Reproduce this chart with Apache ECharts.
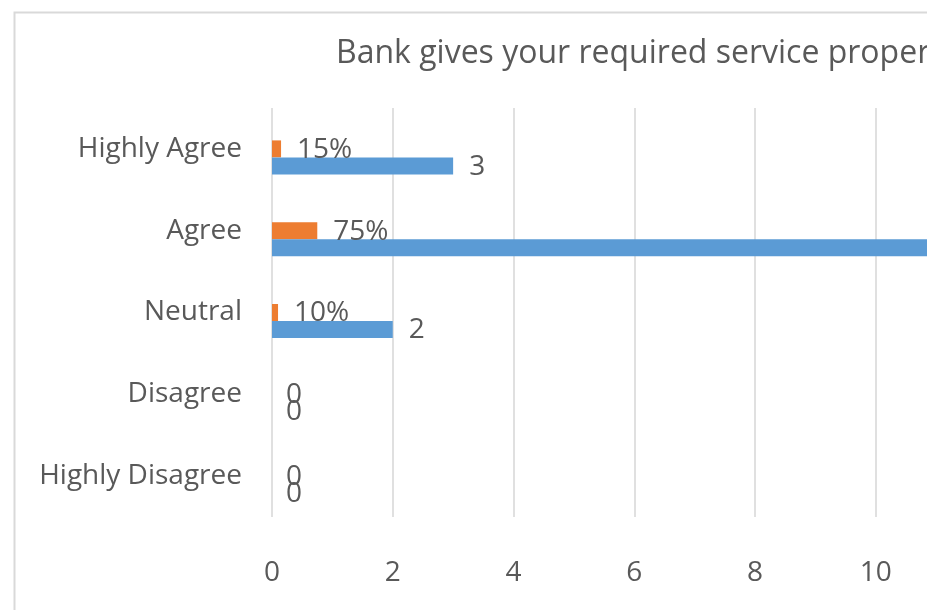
<!DOCTYPE html>
<html>
<head>
<meta charset="utf-8">
<script src="https://cdn.jsdelivr.net/npm/echarts@6/dist/echarts.min.js"></script>
<style>
  html, body { margin: 0; padding: 0; background: #fff; }
  #chart { width: 927px; height: 610px; }
</style>
</head>
<body>
<div id="chart"></div>
<script>
// Survey responses, listed bottom-to-top as the category axis draws them
const categories = ['Highly Disagree', 'Disagree', 'Neutral', 'Agree', 'Highly Agree'];
const counts = [0, 0, 2, 15, 3];
const shares = [0, 0, 0.10, 0.75, 0.15];
const xTicks = [0, 2, 4, 6, 8, 10, 12, 14, 16];

const FONT = '"Open Sans", "Noto Sans", sans-serif';
const TEXT = '#595959';
const X_MIN = xTicks[0];
const X_MAX = xTicks[xTicks.length - 1];

function labelled(values, fmt) {
  return values.map(v => ({
    value: v,
    label: {
      formatter: fmt(v),
      offset: v === 0 ? [-2, 1] : [0, 1]
    }
  }));
}

const chart = echarts.init(document.getElementById('chart'), null, { renderer: 'canvas' });

// Two stacked grids share one x scale: the first carries the axis labels and
// gridlines, the second (nudged down a little) carries the bars.
const gridBase = { left: 272, height: 409, width: 966, containLabel: false, outerBoundsMode: 'none' };

chart.setOption({
  animation: false,
  backgroundColor: '#ffffff',
  graphic: [{
    type: 'rect',
    left: 12,
    top: 10,
    shape: { width: 2000, height: 2000 },
    style: { fill: 'none', stroke: '#d9d9d9', lineWidth: 2 },
    silent: true,
    z: -1
  }],
  title: {
    text: 'Bank gives your required service properly',
    left: 331,
    top: 33,
    textStyle: { fontFamily: FONT, fontSize: 32, fontWeight: 'normal', color: TEXT }
  },
  grid: [
    Object.assign({ top: 108 }, gridBase),
    Object.assign({ top: 116.5 }, gridBase)
  ],
  xAxis: [
    {
      type: 'value', gridIndex: 0,
      min: X_MIN, max: X_MAX, interval: 2,
      axisLine: { show: false },
      axisTick: { show: false },
      axisLabel: { fontFamily: FONT, fontSize: 28, color: TEXT, margin: 42 },
      splitLine: { show: true, lineStyle: { color: '#d9d9d9', width: 1.6 } }
    },
    {
      type: 'value', gridIndex: 1,
      min: X_MIN, max: X_MAX, interval: 2,
      show: false
    }
  ],
  yAxis: [
    {
      type: 'category', gridIndex: 0,
      data: categories,
      axisLine: { show: false },
      axisTick: { show: false },
      axisLabel: { fontFamily: FONT, fontSize: 28, color: TEXT, margin: 30 }
    },
    {
      type: 'category', gridIndex: 1,
      data: categories,
      show: false
    }
  ],
  series: [
    {
      name: 'Share',
      type: 'bar',
      xAxisIndex: 1, yAxisIndex: 1,
      data: labelled(shares, v => Math.round(v * 100) === 0 ? '0' : Math.round(v * 100) + '%'),
      barWidth: 17,
      barGap: '0%',
      itemStyle: { color: '#ed7d31' },
      label: {
        show: true, position: 'right', distance: 16,
        fontFamily: FONT, fontSize: 28, color: TEXT
      }
    },
    {
      name: 'Count',
      type: 'bar',
      xAxisIndex: 1, yAxisIndex: 1,
      data: labelled(counts, v => String(v)),
      barWidth: 17,
      barGap: '0%',
      itemStyle: { color: '#5b9bd5' },
      label: {
        show: true, position: 'right', distance: 16,
        fontFamily: FONT, fontSize: 28, color: TEXT
      }
    }
  ]
});
</script>
</body>
</html>
